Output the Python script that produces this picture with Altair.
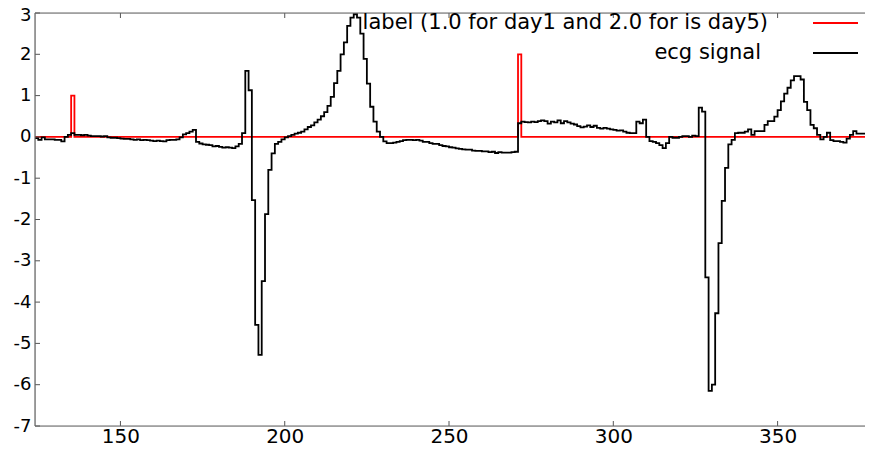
import altair as alt
import pandas as pd

# sample index of the first value
x_start = 124

# ECG signal, one value per sample (124 .. 379)
ecg_values = [
    -0.03, -0.07, -0.01, -0.06, -0.06, -0.06, -0.07, -0.07, -0.11, 0.0,
    0.05, 0.09, 0.05, 0.05, 0.04, 0.05, 0.03, 0.02, 0.02, 0.02,
    0.01, 0.02, -0.01, -0.02, -0.02, -0.03, -0.04, -0.05, -0.05, -0.06,
    -0.07, -0.06, -0.08, -0.07, -0.08, -0.09, -0.1, -0.09, -0.1, -0.11,
    -0.08, -0.07, -0.07, -0.06, -0.01, 0.06, 0.09, 0.13, 0.17, -0.12,
    -0.16, -0.18, -0.19, -0.2, -0.23, -0.22, -0.24, -0.26, -0.25, -0.26,
    -0.27, -0.23, -0.17, 0.09, 1.6, 1.13, -1.53, -4.55, -5.28, -3.49,
    -1.87, -0.8, -0.4, -0.17, -0.12, -0.06, -0.01, 0.02, 0.05, 0.08,
    0.1, 0.13, 0.18, 0.24, 0.28, 0.35, 0.42, 0.5, 0.6, 0.75,
    0.97, 1.3, 1.6, 2.0, 2.29, 2.69, 2.89, 2.97, 2.89, 2.5,
    1.89, 1.29, 0.73, 0.37, 0.13, 0.0, -0.11, -0.15, -0.15, -0.14,
    -0.12, -0.1, -0.08, -0.07, -0.07, -0.08, -0.07, -0.09, -0.12, -0.12,
    -0.15, -0.17, -0.17, -0.2, -0.22, -0.23, -0.25, -0.26, -0.28, -0.29,
    -0.3, -0.31, -0.31, -0.33, -0.34, -0.34, -0.35, -0.35, -0.37, -0.36,
    -0.39, -0.37, -0.38, -0.38, -0.38, -0.37, -0.36, 0.33, 0.37, 0.36,
    0.35, 0.37, 0.36, 0.38, 0.4, 0.38, 0.32, 0.37, 0.35, 0.4,
    0.33, 0.38, 0.35, 0.32, 0.3, 0.26, 0.23, 0.25, 0.28, 0.24,
    0.27, 0.22, 0.2, 0.22, 0.2, 0.18, 0.17, 0.15, 0.16, 0.13,
    0.1, 0.09, 0.09, 0.37, 0.33, 0.42, 0.0, -0.1, -0.12, -0.15,
    -0.2, -0.27, -0.15, 0.0, -0.02, -0.02, 0.0, 0.02, 0.02, 0.0,
    0.03, 0.02, 0.71, 0.61, -3.4, -6.15, -6.0, -4.27, -2.57, -1.55,
    -0.75, -0.18, -0.07, 0.09, 0.1, 0.1, 0.13, 0.18, 0.05, 0.14,
    0.14, 0.14, 0.29, 0.38, 0.38, 0.49, 0.65, 0.86, 1.05, 1.19,
    1.37, 1.47, 1.47, 1.39, 0.85, 0.65, 0.29, 0.21, 0.05, -0.06,
    0.0, 0.1, -0.08, -0.1, -0.1, -0.12, -0.14, -0.04, 0.05, 0.14,
    0.08, 0.08, 0.08, 0.12, 0.0, 0.0,
]

# label series: 0 everywhere except these samples
label_spike_x = [135, 271]
label_spike_y = [1.0, 2.0]

x_ticks = [150, 200, 250, 300, 350]
y_ticks = [-7, -6, -5, -4, -3, -2, -1, 0, 1, 2, 3]
x_domain = [124, 376.6]
y_domain = [-7, 3]

legend_labels = ["label (1.0 for day1 and 2.0 for is day5)", "ecg signal"]
legend_colors = ["#ff0000", "#000000"]

FONT = "DejaVu Sans"
W, H = 830, 413
FRAME = "#666666"

xs = [x_start + i for i in range(len(ecg_values))]
spikes = dict(zip(label_spike_x, label_spike_y))
label_values = [spikes.get(x, 0.0) for x in xs]

df_ecg = pd.DataFrame({"x": xs, "y": ecg_values})
df_lab = pd.DataFrame({"x": xs, "y": label_values})

x_enc = alt.X(
    "x:Q",
    scale=alt.Scale(domain=x_domain, nice=False, zero=False),
    axis=alt.Axis(
        values=x_ticks, domain=False, ticks=False, grid=False,
        labelFontSize=20, labelFont=FONT, labelColor="black",
        labelPadding=0, labelFlush=False, labelOverlap=False,
        labelExpr="'' + datum.value", title=None,
    ),
)
y_enc = alt.Y(
    "y:Q",
    scale=alt.Scale(domain=y_domain, nice=False, zero=False),
    axis=alt.Axis(
        values=y_ticks, domain=False, ticks=False, grid=False,
        labelFontSize=18, labelFont=FONT, labelColor="black",
        labelPadding=4, labelFlush=False, labelOverlap=False,
        labelOffset=alt.condition("datum.value == 3", alt.value(2), alt.value(0)),
        labelExpr="'' + datum.value", title=None,
    ),
)

label_line = alt.Chart(df_lab).mark_line(
    interpolate="step-after", color=legend_colors[0], strokeWidth=1.8, clip=True
).encode(x=x_enc, y=y_enc)

ecg_line = alt.Chart(df_ecg).mark_line(
    interpolate="step-after", color=legend_colors[1], strokeWidth=1.8, clip=True
).encode(x="x:Q", y="y:Q")

tick_color = "#555555"
df_xt = pd.DataFrame({"t": x_ticks})
df_yt = pd.DataFrame({"t": y_ticks})
xt_bottom = alt.Chart(df_xt).mark_rule(color=tick_color, strokeWidth=1).encode(
    x="t:Q", y=alt.value(H), y2=alt.value(H - 5))
xt_top = alt.Chart(df_xt).mark_rule(color=tick_color, strokeWidth=1).encode(
    x="t:Q", y=alt.value(0), y2=alt.value(5))
yt_left = alt.Chart(df_yt).mark_rule(color=tick_color, strokeWidth=1).encode(
    y="t:Q", x=alt.value(0), x2=alt.value(5))

# frame: left, top and bottom sides (the right side lies past the picture's edge)
df_frame = pd.DataFrame({"side": ["left"]})
frame_left = alt.Chart(df_frame).mark_rule(color=FRAME, strokeWidth=1.2).encode(
    x=alt.value(0), y=alt.value(0), y2=alt.value(H))
frame_top = alt.Chart(df_frame).mark_rule(color=FRAME, strokeWidth=1.2).encode(
    x=alt.value(0), x2=alt.value(W), y=alt.value(0))
frame_bottom = alt.Chart(df_frame).mark_rule(color=FRAME, strokeWidth=1.2).encode(
    x=alt.value(0), x2=alt.value(W), y=alt.value(H))

leg_rows = [10, 40]
leg_text_right = [733, 726]
legend_layers = []
for i in range(2):
    d = pd.DataFrame({"name": [legend_labels[i]]})
    legend_layers.append(
        alt.Chart(d).mark_text(
            align="right", baseline="middle", fontSize=21, font=FONT, color="black"
        ).encode(text="name:N", x=alt.value(leg_text_right[i]), y=alt.value(leg_rows[i]))
    )
    legend_layers.append(
        alt.Chart(d).mark_rule(color=legend_colors[i], strokeWidth=1.8).encode(
            x=alt.value(778), x2=alt.value(823), y=alt.value(leg_rows[i]))
    )

chart = alt.layer(
    label_line, ecg_line, xt_bottom, xt_top, yt_left,
    frame_left, frame_top, frame_bottom, *legend_layers
).properties(
    width=W, height=H,
    autosize=alt.AutoSizeParams(type="none"),
    padding={"left": 27, "top": 5, "right": 0, "bottom": 20},
).configure_view(
    stroke=None
).configure(background="white")

chart.save("out.html", embed_options={"renderer": "svg", "actions": False})
